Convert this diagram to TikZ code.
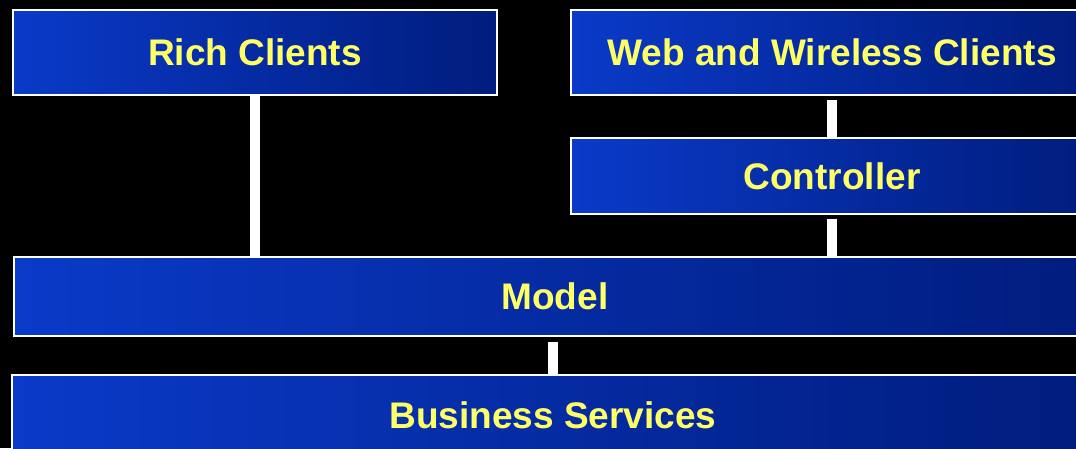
\documentclass[tikz,border=0pt]{standalone}
\usepackage{fontspec}
\setmainfont{Liberation Sans}
\usetikzlibrary{positioning}

\definecolor{layerleft}{RGB}{10,58,200}
\definecolor{layerright}{RGB}{0,28,125}
\definecolor{labelyellow}{RGB}{255,255,102}

\tikzset{
  layer/.style={draw=white, line width=1.5pt, left color=layerleft, right color=layerright,
    text=labelyellow, font=\fontsize{37}{44}\selectfont\bfseries, inner sep=0pt},
  link/.style={draw=white, line width=10pt}
}

\begin{document}
\begin{tikzpicture}[x=1pt, y=-1pt]
\fill[black] (0,0) rectangle (1076,448);
\clip (0,0) rectangle (1076,448);
\node[layer, minimum width=484pt, minimum height=85pt] (rich) at (255,52.5) {Rich Clients};
\node[layer, minimum width=522pt, minimum height=85pt] (web) at (832,52.5) {Web and Wireless Clients};
\node[layer, minimum width=522pt, minimum height=76pt] (ctrl) at (832,176) {Controller};
\node[layer, minimum width=1082pt, minimum height=79pt] (model) at (555,296.5) {Model};
\node[layer, minimum width=1082pt, minimum height=80pt] (biz) at (553,415) {Business Services};
% connectors
\draw[link] (rich.south) -- (rich.south |- model.north);
\draw[link, shorten <=4pt] (web.south) -- (ctrl.north);
\draw[link, shorten <=4pt] (ctrl.south) -- (ctrl.south |- model.north);
\draw[link, shorten <=5pt] (model.south -| biz.north) -- (biz.north);
\end{tikzpicture}
\end{document}
